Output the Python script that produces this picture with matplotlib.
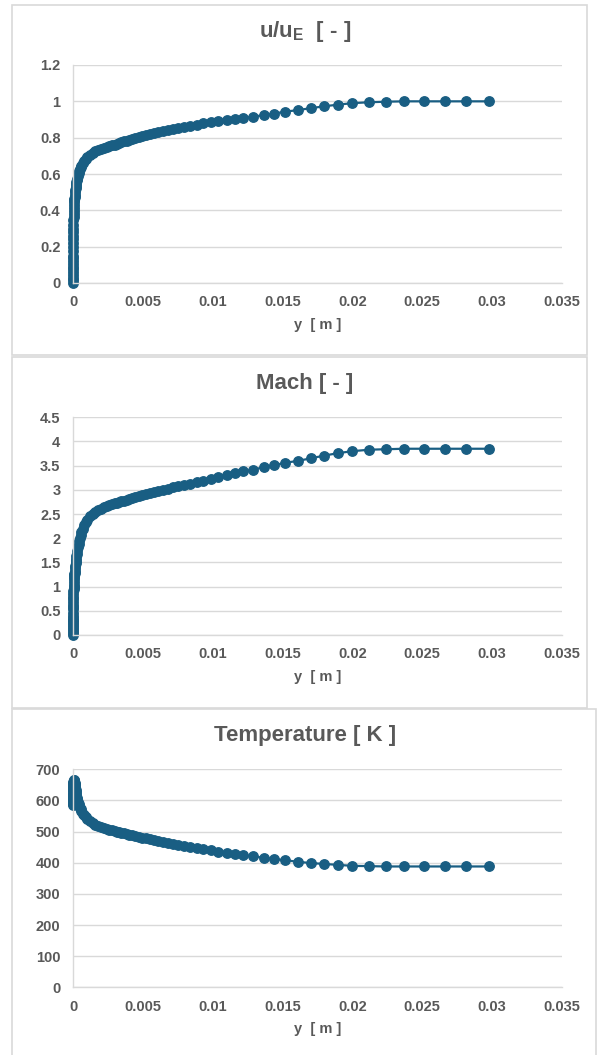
import numpy as np
import matplotlib
matplotlib.use("Agg")
import matplotlib.pyplot as plt
from matplotlib.patches import Rectangle
from matplotlib.ticker import FuncFormatter

plt.rcParams['font.family'] = ['Liberation Sans', 'DejaVu Sans']
plt.rcParams['font.weight'] = 'bold'

# wall distance y [m]
y_pos = [0.0, 0.000001, 0.000002, 0.000003, 0.000004, 0.000005, 0.000006, 0.000007,
         0.000008, 0.000009, 0.00001, 0.000012, 0.000014, 0.000016, 0.000018, 0.00002,
         0.000023, 0.000026, 0.00003, 0.000035, 0.00004, 0.000045, 0.00005, 0.00006,
         0.00007, 0.00008, 0.00009, 0.0001, 0.00011, 0.00012, 0.00014, 0.00016,
         0.00018, 0.0002, 0.000225, 0.00025, 0.000275, 0.0003, 0.00035, 0.0004,
         0.00045, 0.0005, 0.00055, 0.0006, 0.0007, 0.0008, 0.0009, 0.0010,
         0.0012, 0.0014, 0.0016, 0.0018, 0.0020, 0.0022, 0.0024, 0.0026,
         0.0028, 0.00298, 0.00313, 0.00329, 0.00346, 0.00364, 0.00383, 0.00403,
         0.00424, 0.00446, 0.00470, 0.00495, 0.00521, 0.00549, 0.00578, 0.00609,
         0.00642, 0.00677, 0.00714, 0.00753, 0.00794, 0.00838, 0.00884, 0.00933,
         0.00985, 0.0104, 0.0110, 0.0116, 0.0122, 0.0129, 0.0137, 0.0144,
         0.0152, 0.0161, 0.0170, 0.0180, 0.0190, 0.0200, 0.0212, 0.0224,
         0.0237, 0.0251, 0.0266, 0.0281, 0.0298]

u_ratio = [0.0, 0.015, 0.03, 0.045, 0.06, 0.075, 0.09, 0.105,
           0.12, 0.135, 0.15, 0.175, 0.20, 0.22, 0.24, 0.26,
           0.28, 0.30, 0.32, 0.345, 0.365, 0.38, 0.395, 0.415,
           0.43, 0.445, 0.455, 0.465, 0.475, 0.485, 0.50, 0.512,
           0.524, 0.535, 0.546, 0.557, 0.566, 0.575, 0.590, 0.603,
           0.615, 0.627, 0.637, 0.646, 0.662, 0.674, 0.684, 0.692,
           0.705, 0.716, 0.726, 0.733, 0.740, 0.745, 0.750, 0.754,
           0.758, 0.762, 0.766, 0.771, 0.775, 0.779, 0.784, 0.788,
           0.793, 0.798, 0.803, 0.808, 0.814, 0.819, 0.825, 0.830,
           0.836, 0.842, 0.848, 0.854, 0.860, 0.866, 0.872, 0.878,
           0.884, 0.890, 0.896, 0.902, 0.909, 0.916, 0.924, 0.933,
           0.943, 0.952, 0.962, 0.973, 0.982, 0.990, 0.995, 0.998,
           1.0, 1.0, 1.0, 1.0, 1.0]

mach = [0.0, 0.04, 0.08, 0.12, 0.16, 0.20, 0.24, 0.28,
        0.32, 0.36, 0.40, 0.46, 0.53, 0.58, 0.63, 0.68,
        0.74, 0.79, 0.85, 0.91, 0.96, 1.00, 1.04, 1.10,
        1.15, 1.19, 1.23, 1.26, 1.29, 1.32, 1.38, 1.43,
        1.48, 1.53, 1.58, 1.63, 1.68, 1.73, 1.81, 1.88,
        1.95, 2.01, 2.07, 2.12, 2.20, 2.27, 2.33, 2.38,
        2.45, 2.50, 2.54, 2.58, 2.61, 2.64, 2.66, 2.68,
        2.70, 2.72, 2.73, 2.75, 2.76, 2.78, 2.80, 2.81,
        2.83, 2.85, 2.87, 2.89, 2.91, 2.93, 2.95, 2.97,
        3.00, 3.02, 3.05, 3.07, 3.10, 3.13, 3.16, 3.19,
        3.22, 3.26, 3.30, 3.34, 3.38, 3.42, 3.47, 3.51,
        3.56, 3.60, 3.65, 3.71, 3.76, 3.80, 3.83, 3.84,
        3.85, 3.85, 3.85, 3.85, 3.85]

temp = [585, 588, 592, 596, 600, 604, 608, 612,
        615, 618, 621, 627, 632, 637, 641, 645,
        650, 654, 657, 660, 662, 664, 665, 665,
        664, 662, 660, 658, 655, 652, 646, 640,
        634, 628, 621, 615, 609, 604, 596, 588,
        582, 576, 571, 566, 558, 552, 546, 541,
        533, 527, 522, 518, 515, 512, 509, 506,
        504, 502, 500, 498, 496, 494, 492, 490,
        488, 486, 484, 481, 478, 476, 473, 470,
        467, 464, 461, 458, 455, 451, 448, 444,
        440, 436, 432, 428, 424, 420, 416, 412,
        408, 403, 399, 396, 393, 390, 389, 388,
        388, 388, 388, 388, 388]

W, H = 598, 1055
col = '#195E83'
txt = '#595959'
grid = '#D9D9D9'

fig = plt.figure(figsize=(W / 100, H / 100), dpi=100)

# chart frames (pixels: left, top, right, bottom)
frames = [(12, 5, 587, 355), (12, 357, 587, 708), (12, 709, 596, 1056)]
for l, t, r, b in frames:
    fig.patches.append(Rectangle((l / W, 1 - b / H), (r - l) / W, (b - t) / H,
                                 transform=fig.transFigure, fill=False,
                                 edgecolor=grid, linewidth=1.2))

panels = [
    (u_ratio, 'u/u$_\\mathregular{E}$  [ - ]', 1.2, 0.2, 65, 283, 32),
    (mach, 'Mach [ - ]', 4.5, 0.5, 417.3, 635, 383),
    (temp, 'Temperature [ K ]', 700, 100, 769.3, 987.3, 735),
]

fmt = FuncFormatter(lambda v, p: '{:g}'.format(round(v, 6)))

for vals, title, ymax, ystep, top, bot, ty in panels:
    ax = fig.add_axes([73 / W, 1 - bot / H, (562 - 73) / W, (bot - top) / H])
    ax.plot(y_pos, vals, '-o', color=col, markersize=6.8, linewidth=1.6,
            clip_on=False)
    ax.set_xlim(0, 0.035)
    ax.set_ylim(0, ymax)
    ax.set_xticks(np.arange(0, 0.0351, 0.005))
    ax.set_yticks(np.arange(0, ymax + ystep / 2, ystep))
    ax.xaxis.set_major_formatter(fmt)
    ax.yaxis.set_major_formatter(fmt)
    ax.grid(axis='y', color=grid, linewidth=1.0)
    ax.set_axisbelow(True)
    for s in ['top', 'right']:
        ax.spines[s].set_visible(False)
    for s in ['left', 'bottom']:
        ax.spines[s].set_color(grid)
        ax.spines[s].set_linewidth(1.0)
    ax.tick_params(length=0, colors=txt, labelsize=10.5)
    ax.tick_params(axis='y', pad=9)
    ax.tick_params(axis='x', pad=9)
    for lab in ax.get_xticklabels() + ax.get_yticklabels():
        lab.set_fontweight('bold')
    ax.set_xlabel('y  [ m ]', color=txt, fontsize=10.5, fontweight='bold',
                  labelpad=6)
    fig.text(305 / W, 1 - ty / H, title, ha='center', va='center',
             fontsize=16, fontweight='bold', color=txt)

fig.savefig('out.png', dpi=100)
